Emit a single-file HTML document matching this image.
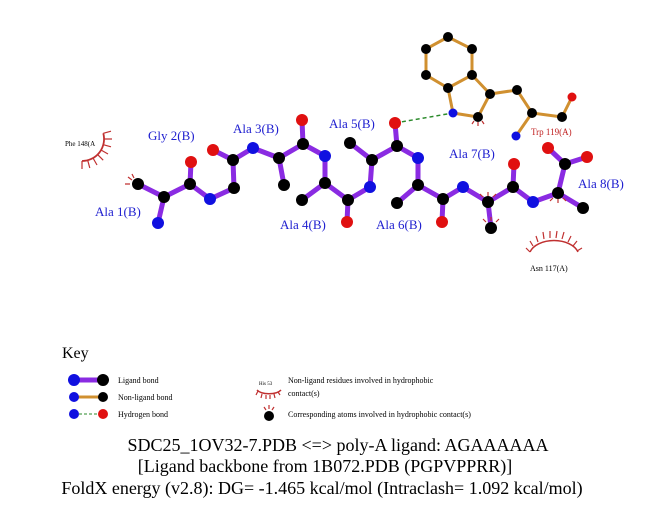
<!DOCTYPE html>
<html><head><meta charset="utf-8"><style>
html,body{margin:0;padding:0;background:#fff;width:651px;height:511px;overflow:hidden}
text{font-family:"Liberation Serif",serif}
</style></head><body>
<svg width="651" height="511" xmlns="http://www.w3.org/2000/svg">
<g stroke="#d09030" stroke-width="3" fill="none">
<polyline points="448,37 472,49 472,75 448,88 426,75 426,49 448,37"/>
<polyline points="448,88 453,113 478,117 490,94 472,75"/>
<polyline points="490,94 517,90 532,113 562,117 572,97"/>
<line x1="532" y1="113" x2="516" y2="136"/>
</g>
<line x1="395" y1="123" x2="453" y2="113" stroke="#2a8a2a" stroke-width="1.5" stroke-dasharray="4,3"/>
<g stroke="#8a2be2" stroke-width="5" fill="none" stroke-linecap="round">
<polyline points="158,223 164,197 138,184"/>
<polyline points="164,197 190,184 191,162"/>
<polyline points="190,184 210,199 234,188 233,160 213,150"/>
<polyline points="233,160 253,148 279,158 284,185"/>
<polyline points="279,158 303,144 302,120"/>
<polyline points="303,144 325,156 325,183 302,200"/>
<polyline points="325,183 348,200 347,222"/>
<polyline points="348,200 370,187 372,160 350,143"/>
<polyline points="372,160 397,146 395,123"/>
<polyline points="397,146 418,158 418,185 397,203"/>
<polyline points="418,185 443,199 442,222"/>
<polyline points="443,199 463,187 488,202 491,228"/>
<polyline points="488,202 513,187 514,164"/>
<polyline points="513,187 533,202 558,193 583,208"/>
<polyline points="558,193 565,164 548,148"/>
<polyline points="565,164 587,157"/>
</g>
<g fill="#000">
<circle cx="448" cy="37" r="5"/><circle cx="472" cy="49" r="5"/><circle cx="472" cy="75" r="5"/><circle cx="448" cy="88" r="5"/><circle cx="426" cy="75" r="5"/><circle cx="426" cy="49" r="5"/><circle cx="478" cy="117" r="5"/><circle cx="490" cy="94" r="5"/><circle cx="517" cy="90" r="5"/><circle cx="532" cy="113" r="5"/><circle cx="562" cy="117" r="5"/>
<circle cx="138" cy="184" r="6"/><circle cx="164" cy="197" r="6"/><circle cx="190" cy="184" r="6"/><circle cx="234" cy="188" r="6"/><circle cx="233" cy="160" r="6"/><circle cx="279" cy="158" r="6"/><circle cx="284" cy="185" r="6"/><circle cx="303" cy="144" r="6"/><circle cx="325" cy="183" r="6"/><circle cx="302" cy="200" r="6"/><circle cx="348" cy="200" r="6"/><circle cx="372" cy="160" r="6"/><circle cx="350" cy="143" r="6"/><circle cx="397" cy="146" r="6"/><circle cx="418" cy="185" r="6"/><circle cx="397" cy="203" r="6"/><circle cx="443" cy="199" r="6"/><circle cx="488" cy="202" r="6"/><circle cx="491" cy="228" r="6"/><circle cx="513" cy="187" r="6"/><circle cx="558" cy="193" r="6"/><circle cx="583" cy="208" r="6"/><circle cx="565" cy="164" r="6"/>
</g>
<g fill="#1010e0">
<circle cx="453" cy="113" r="4.5"/><circle cx="516" cy="136" r="4.5"/>
<circle cx="158" cy="223" r="6"/><circle cx="210" cy="199" r="6"/><circle cx="253" cy="148" r="6"/><circle cx="325" cy="156" r="6"/><circle cx="370" cy="187" r="6"/><circle cx="418" cy="158" r="6"/><circle cx="463" cy="187" r="6"/><circle cx="533" cy="202" r="6"/>
</g>
<g fill="#e01010">
<circle cx="572" cy="97" r="4.5"/>
<circle cx="191" cy="162" r="6"/><circle cx="213" cy="150" r="6"/><circle cx="302" cy="120" r="6"/><circle cx="347" cy="222" r="6"/><circle cx="395" cy="123" r="6"/><circle cx="442" cy="222" r="6"/><circle cx="514" cy="164" r="6"/><circle cx="548" cy="148" r="6"/><circle cx="587" cy="157" r="6"/>
</g>
<g stroke="#c03030" stroke-width="1.2" fill="none">
<path d="M103.3,133.3 A22,22 0 0 1 82,161" stroke-width="1.8"/>
<path d="M103.3,133.3 L111,131.2 M104,139 L112,139 M103.3,144.7 L111,146.8 M101,150 L108,154 M97.6,154.6 L103.2,160.2 M93,158 L97,165 M87.7,160.3 L89.8,168 M82,161 L82,169"/>
<path d="M530,252 A25,16 0 0 1 578,252" stroke-width="1.5"/>
<path d="M530,252 l-4,-4 M533,246 l-3,-5 M538,242 l-2,-6 M544,239 l-1,-7 M550,238 l0,-7 M556,238 l1,-7 M562,239 l2,-7 M568,242 l3,-6 M573,246 l4,-5 M577,251 l5,-3"/>
<path d="M132,180 l-4,-3 M134,178 l-2,-4 M130,184 l-5,0"/>
<path d="M478,122 l0,4 M474,121 l-2,3 M482,121 l2,3"/>
<path d="M491,221 l0,-4 M486,222 l-3,-3 M496,222 l3,-3 M488,196 l0,-4 M483,197 l-3,-3 M493,197 l3,-3 M558,199 l0,4 M553,198 l-3,3 M563,198 l3,3"/>
<path d="M257,390 A13,6 0 0 0 281,390" stroke-width="1.5"/>
<path d="M258,391 l-2,4 M262,394 l-1,4 M266,395 l0,4 M270,395 l0,4 M274,394 l1,4 M278,392 l2,3"/>
<path d="M266,410 l-2,-3 M269,409 l0,-4 M272,410 l2,-3"/>
</g>
<g fill="#2020d0" font-size="13">
<text x="148" y="140">Gly 2(B)</text><text x="95" y="216">Ala 1(B)</text><text x="233" y="133">Ala 3(B)</text><text x="280" y="229">Ala 4(B)</text><text x="329" y="128">Ala 5(B)</text><text x="376" y="229">Ala 6(B)</text><text x="449" y="158">Ala 7(B)</text><text x="578" y="188">Ala 8(B)</text>
</g>
<text x="531" y="135" font-size="9" fill="#c02020">Trp 119(A)</text>
<text x="530" y="271" font-size="8" fill="#000">Asn 117(A)</text>
<text x="65" y="146" font-size="7" fill="#000">Phe 148(A</text>
<text x="62" y="358" font-size="16">Key</text>
<line x1="74" y1="380" x2="103" y2="380" stroke="#8a2be2" stroke-width="5"/>
<line x1="74" y1="397" x2="103" y2="397" stroke="#d09030" stroke-width="3"/>
<line x1="74" y1="414" x2="103" y2="414" stroke="#2a8a2a" stroke-width="1" stroke-dasharray="3,2"/>
<circle cx="74" cy="380" r="6" fill="#1010e0"/><circle cx="103" cy="380" r="6" fill="#000"/>
<circle cx="74" cy="397" r="5" fill="#1010e0"/><circle cx="103" cy="397" r="5" fill="#000"/>
<circle cx="74" cy="414" r="5" fill="#1010e0"/><circle cx="103" cy="414" r="5" fill="#e01010"/>
<circle cx="269" cy="416" r="5" fill="#000"/>
<g font-size="8" fill="#000">
<text x="118" y="383">Ligand bond</text><text x="118" y="400">Non-ligand bond</text><text x="118" y="417">Hydrogen bond</text>
<text x="259" y="385" font-size="5">His 53</text>
<text x="288" y="383">Non-ligand residues involved in hydrophobic</text>
<text x="288" y="396">contact(s)</text>
<text x="288" y="417">Corresponding atoms involved in hydrophobic contact(s)</text>
</g>
<g font-size="18" text-anchor="middle" fill="#000">
<text x="338" y="451">SDC25_1OV32-7.PDB &lt;=&gt; poly-A ligand: AGAAAAAA</text>
<text x="325" y="472">[Ligand backbone from 1B072.PDB (PGPVPPRR)]</text>
<text x="322" y="494">FoldX energy (v2.8): DG= -1.465 kcal/mol (Intraclash= 1.092 kcal/mol)</text>
</g>
</svg>
</body></html>
